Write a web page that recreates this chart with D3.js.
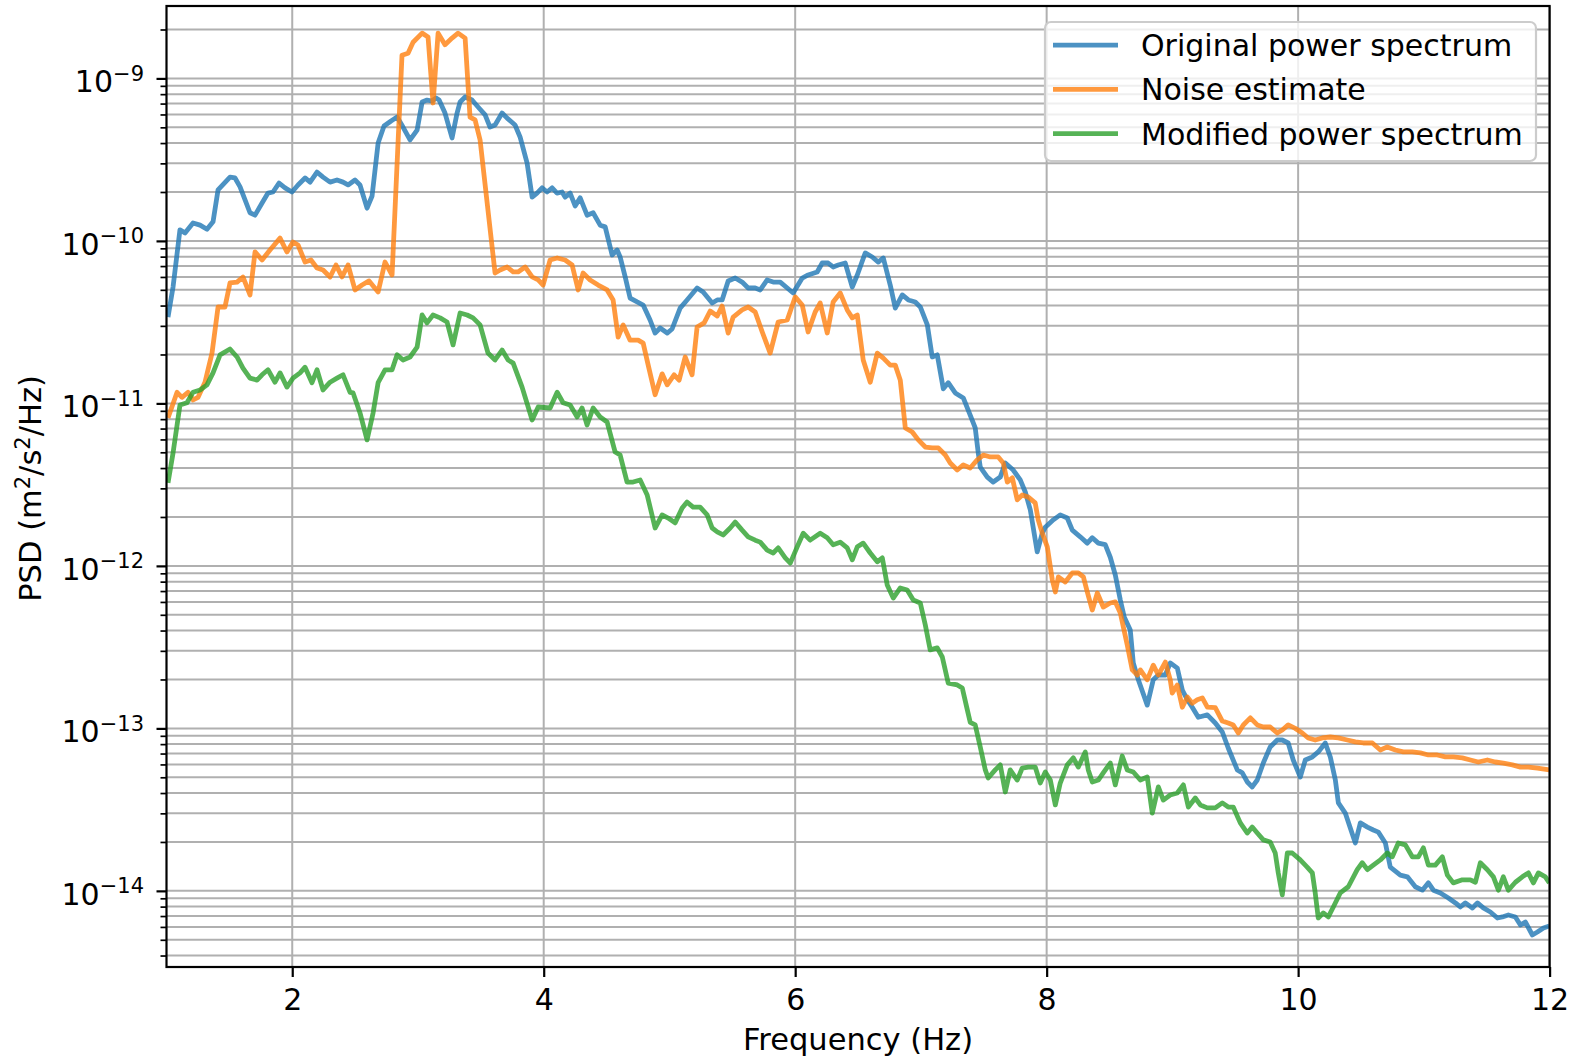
<!DOCTYPE html>
<html>
<head>
<meta charset="utf-8">
<script src="https://cdn.jsdelivr.net/npm/d3@7"></script>
<style>
  body { margin: 0; background: #ffffff; }
  text { font-family: "DejaVu Sans", sans-serif; fill: #000; }
</style>
</head>
<body>
<svg id="chart" width="1576" height="1059"></svg>
<script>
// Frequency (Hz) and PSD (m^2/s^2/Hz) for each spectrum
const freqOriginal = [1.012,1.052,1.107,1.147,1.211,1.267,1.322,1.370,1.410,1.505,1.545,1.585,1.664,1.704,1.760,1.807,1.847,1.895,1.943,1.998,2.046,2.102,2.142,2.197,2.245,2.301,2.356,2.404,2.444,2.499,2.539,2.595,2.635,2.683,2.730,2.786,2.834,2.881,2.937,2.993,3.033,3.072,3.112,3.144,3.168,3.215,3.271,3.311,3.335,3.375,3.430,3.478,3.534,3.573,3.613,3.669,3.709,3.772,3.812,3.868,3.908,3.947,3.987,4.027,4.067,4.106,4.146,4.170,4.210,4.250,4.290,4.345,4.393,4.449,4.489,4.544,4.584,4.608,4.648,4.687,4.743,4.791,4.846,4.886,4.926,4.982,5.021,5.085,5.140,5.220,5.268,5.340,5.380,5.419,5.467,5.523,5.578,5.626,5.682,5.722,5.777,5.825,5.881,5.937,5.984,6.056,6.103,6.175,6.215,6.262,6.302,6.342,6.398,6.454,6.494,6.557,6.613,6.661,6.701,6.756,6.796,6.852,6.900,6.955,6.995,7.051,7.090,7.130,7.178,7.217,7.273,7.337,7.392,7.432,7.456,7.472,7.528,7.575,7.631,7.671,7.734,7.790,7.830,7.870,7.925,7.965,7.989,8.053,8.108,8.164,8.204,8.267,8.323,8.363,8.411,8.466,8.506,8.546,8.586,8.617,8.665,8.689,8.729,8.800,8.848,8.888,8.944,8.983,9.039,9.079,9.119,9.158,9.206,9.278,9.341,9.397,9.444,9.516,9.556,9.596,9.635,9.675,9.723,9.778,9.834,9.874,9.921,9.961,10.017,10.057,10.113,10.160,10.216,10.256,10.296,10.320,10.375,10.455,10.495,10.551,10.598,10.638,10.694,10.733,10.813,10.869,10.932,10.988,11.036,11.076,11.131,11.195,11.251,11.290,11.330,11.386,11.426,11.473,11.529,11.585,11.624,11.672,11.728,11.768,11.807,11.863,11.903,11.951,11.998];
const psdOriginal = [3.40e-11,5.20e-11,1.17e-10,1.12e-10,1.29e-10,1.25e-10,1.18e-10,1.31e-10,2.06e-10,2.47e-10,2.44e-10,2.15e-10,1.49e-10,1.44e-10,1.71e-10,1.97e-10,2.00e-10,2.27e-10,2.12e-10,2.00e-10,2.21e-10,2.44e-10,2.30e-10,2.65e-10,2.47e-10,2.30e-10,2.37e-10,2.30e-10,2.21e-10,2.37e-10,2.21e-10,1.59e-10,1.89e-10,4.00e-10,5.09e-10,5.47e-10,5.78e-10,5.02e-10,4.18e-10,4.81e-10,7.16e-10,7.36e-10,7.26e-10,7.57e-10,7.36e-10,6.12e-10,4.30e-10,6.12e-10,7.16e-10,7.69e-10,7.36e-10,6.67e-10,5.96e-10,5.02e-10,5.17e-10,6.12e-10,5.70e-10,5.17e-10,4.36e-10,3.01e-10,1.86e-10,1.97e-10,2.12e-10,2.00e-10,2.12e-10,1.97e-10,2.00e-10,1.86e-10,1.97e-10,1.64e-10,1.84e-10,1.44e-10,1.49e-10,1.25e-10,1.22e-10,8.19e-11,8.79e-11,7.96e-11,6.00e-11,4.45e-11,4.21e-11,4.03e-11,3.26e-11,2.71e-11,2.91e-11,2.71e-11,2.87e-11,3.86e-11,4.33e-11,5.13e-11,4.85e-11,4.15e-11,4.33e-11,4.33e-11,5.67e-11,5.91e-11,5.58e-11,5.13e-11,5.13e-11,4.99e-11,5.75e-11,5.58e-11,5.58e-11,5.13e-11,4.78e-11,5.91e-11,6.17e-11,6.44e-11,7.31e-11,7.31e-11,6.91e-11,7.11e-11,7.31e-11,5.20e-11,6.17e-11,8.43e-11,7.96e-11,7.41e-11,7.85e-11,5.35e-11,3.86e-11,4.65e-11,4.33e-11,4.21e-11,3.92e-11,3.04e-11,1.93e-11,1.99e-11,1.23e-11,1.34e-11,1.16e-11,1.08e-11,8.48e-12,7.06e-12,4.95e-12,4.06e-12,3.52e-12,3.28e-12,3.52e-12,4.30e-12,3.89e-12,3.38e-12,2.85e-12,2.21e-12,1.22e-12,1.59e-12,1.73e-12,1.92e-12,2.06e-12,1.97e-12,1.66e-12,1.51e-12,1.38e-12,1.49e-12,1.38e-12,1.35e-12,1.13e-12,8.79e-13,6.17e-13,4.85e-13,4.03e-13,2.53e-13,1.99e-13,1.39e-13,1.99e-13,2.13e-13,2.13e-13,2.53e-13,2.35e-13,1.72e-13,1.50e-13,1.35e-13,1.17e-13,1.21e-13,1.08e-13,9.50e-14,7.57e-14,5.55e-14,5.32e-14,4.68e-14,4.36e-14,4.81e-14,6.12e-14,7.69e-14,8.48e-14,8.48e-14,8.13e-14,6.39e-14,5.02e-14,6.39e-14,6.67e-14,7.16e-14,8.13e-14,6.67e-14,4.81e-14,3.48e-14,3.01e-14,1.97e-14,2.62e-14,2.47e-14,2.37e-14,2.30e-14,1.97e-14,1.40e-14,1.25e-14,1.22e-14,1.06e-14,1.01e-14,1.12e-14,1.01e-14,9.71e-15,9.04e-15,8.43e-15,7.96e-15,8.43e-15,7.85e-15,8.43e-15,7.85e-15,7.41e-15,6.81e-15,6.91e-15,7.11e-15,6.91e-15,6.17e-15,6.44e-15,5.35e-15,5.58e-15,5.91e-15,6.08e-15];

const freqNoise = [1.012,1.084,1.123,1.171,1.211,1.251,1.306,1.362,1.410,1.465,1.505,1.561,1.608,1.664,1.704,1.760,1.823,1.903,1.958,2.006,2.046,2.102,2.149,2.197,2.245,2.301,2.348,2.396,2.444,2.499,2.555,2.611,2.683,2.738,2.794,2.873,2.921,2.961,3.033,3.080,3.120,3.160,3.215,3.271,3.319,3.375,3.414,3.454,3.494,3.613,3.653,3.709,3.757,3.796,3.852,3.908,3.956,3.995,4.051,4.107,4.170,4.226,4.274,4.313,4.369,4.433,4.504,4.552,4.592,4.632,4.687,4.751,4.791,4.831,4.886,4.942,4.982,5.037,5.077,5.125,5.180,5.220,5.276,5.324,5.380,5.419,5.467,5.507,5.578,5.626,5.682,5.738,5.801,5.865,5.937,6.000,6.056,6.103,6.159,6.199,6.255,6.302,6.358,6.414,6.454,6.494,6.541,6.597,6.653,6.701,6.756,6.796,6.836,6.876,6.931,6.979,7.035,7.090,7.138,7.194,7.233,7.289,7.337,7.392,7.448,7.496,7.552,7.615,7.655,7.687,7.727,7.766,7.806,7.854,7.909,7.933,7.965,8.005,8.045,8.069,8.093,8.148,8.204,8.252,8.292,8.323,8.363,8.403,8.450,8.506,8.546,8.586,8.641,8.681,8.721,8.745,8.800,8.848,8.888,8.944,8.983,8.999,9.039,9.079,9.119,9.158,9.198,9.238,9.278,9.341,9.397,9.444,9.484,9.524,9.564,9.620,9.675,9.723,9.778,9.834,9.874,9.921,9.977,10.033,10.080,10.136,10.192,10.256,10.320,10.391,10.455,10.518,10.590,10.654,10.709,10.773,10.837,10.908,10.972,11.036,11.107,11.171,11.234,11.306,11.370,11.433,11.505,11.568,11.632,11.704,11.768,11.831,11.903,11.998];
const psdNoise = [8.13e-12,1.17e-11,1.09e-11,1.17e-11,1.05e-11,1.09e-11,1.35e-11,2.04e-11,3.92e-11,3.92e-11,5.51e-11,5.58e-11,6.00e-11,4.65e-11,8.55e-11,7.63e-11,8.79e-11,1.04e-10,8.55e-11,9.84e-11,9.44e-11,7.41e-11,7.63e-11,6.81e-11,6.62e-11,6.00e-11,7.11e-11,6.00e-11,7.11e-11,4.99e-11,5.35e-11,5.67e-11,4.85e-11,7.41e-11,6.17e-11,1.39e-9,1.43e-9,1.67e-9,1.90e-9,1.80e-9,7.06e-10,1.90e-9,1.61e-9,1.77e-9,1.90e-9,1.77e-9,5.78e-10,5.55e-10,4.18e-10,6.34e-11,6.62e-11,6.91e-11,6.44e-11,6.44e-11,6.91e-11,6.00e-11,5.75e-11,5.35e-11,7.63e-11,7.85e-11,7.63e-11,7.11e-11,4.99e-11,6.34e-11,5.75e-11,5.35e-11,4.99e-11,4.33e-11,2.56e-11,3.04e-11,2.45e-11,2.45e-11,2.35e-11,1.72e-11,1.13e-11,1.52e-11,1.30e-11,1.50e-11,1.39e-11,1.93e-11,1.50e-11,2.95e-11,3.13e-11,3.70e-11,3.45e-11,3.97e-11,2.71e-11,3.40e-11,3.76e-11,3.92e-11,3.65e-11,2.75e-11,2.04e-11,3.17e-11,3.26e-11,4.52e-11,4.03e-11,2.75e-11,3.65e-11,4.15e-11,2.71e-11,4.21e-11,4.78e-11,3.76e-11,3.36e-11,3.50e-11,1.85e-11,1.35e-11,2.04e-11,1.90e-11,1.72e-11,1.72e-11,1.39e-11,7.06e-12,6.67e-12,5.96e-12,5.39e-12,5.32e-12,5.32e-12,4.81e-12,4.30e-12,3.89e-12,4.18e-12,4.00e-12,4.49e-12,4.81e-12,4.68e-12,4.68e-12,4.30e-12,3.28e-12,3.48e-12,2.55e-12,2.73e-12,2.65e-12,2.44e-12,1.92e-12,1.59e-12,1.31e-12,8.19e-13,6.91e-13,8.55e-13,7.96e-13,9.04e-13,9.04e-13,8.55e-13,6.91e-13,5.35e-13,6.81e-13,5.58e-13,5.91e-13,6.00e-13,5.13e-13,3.26e-13,2.29e-13,2.13e-13,2.29e-13,1.99e-13,2.45e-13,2.13e-13,2.56e-13,1.99e-13,1.65e-13,1.85e-13,1.35e-13,1.56e-13,1.43e-13,1.50e-13,1.54e-13,1.35e-13,1.34e-13,1.11e-13,1.08e-13,1.05e-13,9.37e-14,1.05e-13,1.16e-13,1.05e-13,1.02e-13,1.02e-13,9.37e-14,9.77e-14,1.05e-13,1.00e-13,9.37e-14,8.73e-14,8.48e-14,8.73e-14,8.85e-14,8.73e-14,8.48e-14,8.25e-14,8.13e-14,8.13e-14,7.36e-14,7.69e-14,7.36e-14,7.16e-14,7.16e-14,7.06e-14,6.86e-14,6.86e-14,6.67e-14,6.67e-14,6.58e-14,6.39e-14,6.21e-14,6.39e-14,6.21e-14,6.12e-14,5.96e-14,5.78e-14,5.78e-14,5.70e-14,5.55e-14];

const freqModified = [1.012,1.052,1.107,1.163,1.211,1.267,1.322,1.370,1.426,1.505,1.561,1.608,1.664,1.720,1.760,1.807,1.863,1.903,1.958,2.006,2.062,2.102,2.157,2.197,2.245,2.301,2.356,2.404,2.460,2.484,2.539,2.595,2.643,2.683,2.738,2.794,2.834,2.881,2.937,2.993,3.033,3.072,3.120,3.176,3.231,3.279,3.335,3.391,3.438,3.494,3.557,3.613,3.669,3.717,3.757,3.828,3.908,3.956,4.051,4.107,4.154,4.210,4.266,4.305,4.345,4.393,4.449,4.504,4.568,4.608,4.663,4.711,4.767,4.823,4.886,4.942,4.990,5.045,5.101,5.140,5.188,5.244,5.300,5.340,5.380,5.427,5.483,5.523,5.578,5.626,5.682,5.722,5.777,5.825,5.865,5.921,5.961,6.016,6.064,6.119,6.199,6.255,6.302,6.358,6.414,6.454,6.494,6.541,6.597,6.653,6.693,6.732,6.780,6.836,6.891,6.939,6.995,7.035,7.074,7.130,7.170,7.217,7.289,7.329,7.369,7.392,7.432,7.472,7.512,7.535,7.591,7.631,7.671,7.710,7.766,7.806,7.854,7.909,7.949,7.989,8.029,8.069,8.108,8.164,8.212,8.252,8.307,8.331,8.363,8.411,8.450,8.506,8.546,8.601,8.641,8.689,8.745,8.800,8.840,8.888,8.928,8.983,9.039,9.087,9.127,9.182,9.222,9.278,9.341,9.397,9.444,9.484,9.540,9.596,9.635,9.675,9.723,9.778,9.818,9.842,9.874,9.914,9.953,10.017,10.072,10.113,10.136,10.160,10.200,10.240,10.280,10.335,10.399,10.470,10.510,10.551,10.598,10.654,10.709,10.749,10.797,10.853,10.908,10.956,10.996,11.036,11.091,11.147,11.187,11.234,11.306,11.370,11.410,11.449,11.505,11.553,11.593,11.632,11.672,11.728,11.783,11.831,11.871,11.911,11.966,11.998];
const psdModified = [3.24e-12,4.95e-12,9.77e-12,1.01e-11,1.17e-11,1.21e-11,1.30e-11,1.54e-11,1.99e-11,2.16e-11,1.93e-11,1.65e-11,1.43e-11,1.39e-11,1.50e-11,1.61e-11,1.35e-11,1.54e-11,1.26e-11,1.43e-11,1.54e-11,1.67e-11,1.34e-11,1.61e-11,1.21e-11,1.35e-11,1.43e-11,1.50e-11,1.17e-11,1.16e-11,8.73e-12,5.96e-12,8.73e-12,1.34e-11,1.61e-11,1.61e-11,1.99e-11,1.85e-11,1.93e-11,2.22e-11,3.50e-11,3.13e-11,3.50e-11,3.36e-11,3.17e-11,2.29e-11,3.60e-11,3.50e-11,3.36e-11,3.04e-11,2.04e-11,1.85e-11,2.13e-11,1.85e-11,1.77e-11,1.26e-11,7.91e-12,9.50e-12,9.37e-12,1.17e-11,1.01e-11,9.77e-12,8.25e-12,9.37e-12,7.36e-12,9.37e-12,8.25e-12,7.69e-12,5.02e-12,4.81e-12,3.28e-12,3.28e-12,3.38e-12,2.73e-12,1.71e-12,2.06e-12,1.97e-12,1.84e-12,2.27e-12,2.47e-12,2.30e-12,2.30e-12,2.06e-12,1.71e-12,1.62e-12,1.55e-12,1.71e-12,1.86e-12,1.66e-12,1.51e-12,1.44e-12,1.40e-12,1.25e-12,1.20e-12,1.29e-12,1.12e-12,1.04e-12,1.31e-12,1.59e-12,1.44e-12,1.59e-12,1.49e-12,1.35e-12,1.40e-12,1.29e-12,1.09e-12,1.31e-12,1.38e-12,1.20e-12,1.06e-12,1.12e-12,7.63e-13,6.34e-13,7.31e-13,7.11e-13,6.17e-13,5.91e-13,4.33e-13,3.04e-13,3.13e-13,2.75e-13,1.90e-13,1.85e-13,1.77e-13,1.30e-13,1.09e-13,1.05e-13,7.69e-14,5.55e-14,4.95e-14,5.55e-14,5.96e-14,4.06e-14,5.55e-14,4.81e-14,5.70e-14,5.78e-14,5.78e-14,4.61e-14,5.39e-14,4.81e-14,3.38e-14,4.61e-14,5.96e-14,6.58e-14,5.78e-14,7.16e-14,5.55e-14,4.68e-14,4.81e-14,5.32e-14,6.12e-14,4.49e-14,6.76e-14,5.55e-14,5.39e-14,4.81e-14,5.02e-14,3.01e-14,4.36e-14,3.62e-14,3.89e-14,4.00e-14,4.49e-14,3.28e-14,3.73e-14,3.38e-14,3.24e-14,3.24e-14,3.48e-14,3.28e-14,3.28e-14,2.62e-14,2.27e-14,2.47e-14,2.27e-14,2.06e-14,2.00e-14,1.71e-14,1.29e-14,9.44e-15,1.71e-14,1.71e-14,1.55e-14,1.40e-14,1.29e-14,9.71e-15,6.81e-15,7.31e-15,6.91e-15,7.96e-15,9.71e-15,1.06e-14,1.35e-14,1.49e-14,1.35e-14,1.44e-14,1.55e-14,1.71e-14,1.62e-14,1.97e-14,1.92e-14,1.62e-14,1.62e-14,1.84e-14,1.44e-14,1.44e-14,1.62e-14,1.25e-14,1.12e-14,1.17e-14,1.17e-14,1.13e-14,1.49e-14,1.35e-14,1.22e-14,1.01e-14,1.22e-14,1.01e-14,1.13e-14,1.22e-14,1.29e-14,1.12e-14,1.29e-14,1.22e-14,1.12e-14];

const seriesNames = ["Original power spectrum", "Noise estimate", "Modified power spectrum"];
const seriesColors = ["#1f77b4", "#ff7f0e", "#2ca02c"];
const xTicks = [2, 4, 6, 8, 10, 12];
const yDecades = [-14, -13, -12, -11, -10, -9];
const xDomain = [1, 12];
const yDomain = [3.4e-15, 2.79e-9];

const series = [
  { name: seriesNames[0], color: seriesColors[0], pts: freqOriginal.map((f, i) => [f, psdOriginal[i]]) },
  { name: seriesNames[1], color: seriesColors[1], pts: freqNoise.map((f, i) => [f, psdNoise[i]]) },
  { name: seriesNames[2], color: seriesColors[2], pts: freqModified.map((f, i) => [f, psdModified[i]]) }
];

const FS = 30;      // base font size
const SUP = 21;     // superscript font size
const plot = { left: 166.5, right: 1549.6, top: 6, bottom: 967 };
const svg = d3.select("#chart");

const x = d3.scaleLinear().domain(xDomain).range([plot.left, plot.right]);
const y = d3.scaleLog().domain(yDomain).range([plot.bottom, plot.top]);

const isDecade = v => Math.abs(Math.log10(v) - Math.round(Math.log10(v))) < 1e-6;
const allY = y.ticks();
const majorY = yDecades.map(e => Math.pow(10, e));
const minorY = allY.filter(v => !isDecade(v));

// grid
const grid = svg.append("g").attr("stroke", "#b0b0b0").attr("stroke-width", 2);
grid.selectAll("line.gy").data(allY).join("line")
  .attr("x1", plot.left).attr("x2", plot.right)
  .attr("y1", d => y(d)).attr("y2", d => y(d));
grid.selectAll("line.gx").data(xTicks).join("line")
  .attr("x1", d => x(d)).attr("x2", d => x(d))
  .attr("y1", plot.top).attr("y2", plot.bottom);

// spectra
svg.append("clipPath").attr("id", "plotclip").append("rect")
  .attr("x", plot.left).attr("y", plot.top)
  .attr("width", plot.right - plot.left).attr("height", plot.bottom - plot.top);
const line = d3.line().x(d => x(d[0])).y(d => y(d[1]));
svg.append("g").attr("clip-path", "url(#plotclip)")
  .selectAll("path").data(series).join("path")
  .attr("d", d => line(d.pts))
  .attr("fill", "none")
  .attr("stroke", d => d.color)
  .attr("stroke-opacity", 0.8)
  .attr("stroke-width", 4.8)
  .attr("stroke-linejoin", "round");

// axes
const xAxis = d3.axisBottom(x).tickValues(xTicks).tickSize(10).tickSizeOuter(0).tickPadding(12)
  .tickFormat(d3.format("d"));
const gx = svg.append("g").attr("transform", `translate(0,${plot.bottom})`).call(xAxis);
gx.select(".domain").remove();
gx.selectAll(".tick line").attr("stroke", "#000").attr("stroke-width", 2.2);
gx.selectAll(".tick text").attr("font-size", FS).attr("font-family", "DejaVu Sans").attr("fill", "#000");

const yMajorAxis = d3.axisLeft(y).tickValues(majorY).tickSize(10).tickSizeOuter(0).tickFormat("");
const gy = svg.append("g").attr("transform", `translate(${plot.left},0)`).call(yMajorAxis);
gy.select(".domain").remove();
gy.selectAll(".tick line").attr("stroke", "#000").attr("stroke-width", 2.2);

const yMinorAxis = d3.axisLeft(y).tickValues(minorY).tickSize(6).tickSizeOuter(0).tickFormat("");
const gym = svg.append("g").attr("transform", `translate(${plot.left},0)`).call(yMinorAxis);
gym.select(".domain").remove();
gym.selectAll(".tick line").attr("stroke", "#000").attr("stroke-width", 1.7);

// y tick labels as 10 with superscript exponent
const ylab = svg.append("g").selectAll("text").data(yDecades).join("text")
  .attr("x", 144).attr("y", d => y(Math.pow(10, d)) + 14)
  .attr("text-anchor", "end").attr("font-size", FS);
ylab.append("tspan").text("10");
ylab.append("tspan").attr("dy", -11.5).attr("font-size", SUP).text(d => "\u2212" + Math.abs(d));

// spines
svg.append("rect")
  .attr("x", plot.left).attr("y", plot.top)
  .attr("width", plot.right - plot.left).attr("height", plot.bottom - plot.top)
  .attr("fill", "none").attr("stroke", "#000").attr("stroke-width", 2.2);

// axis titles
svg.append("text").attr("x", (plot.left + plot.right) / 2).attr("y", 1050)
  .attr("text-anchor", "middle").attr("font-size", FS + 0.5).text("Frequency (Hz)");

const yTitle = svg.append("text")
  .attr("transform", `translate(41,${(plot.top + plot.bottom) / 2 + 2}) rotate(-90)`)
  .attr("text-anchor", "middle").attr("font-size", FS + 0.5);
yTitle.append("tspan").text("PSD (m");
yTitle.append("tspan").attr("dy", -11.5).attr("font-size", SUP).text("2");
yTitle.append("tspan").attr("dy", 11.5).text("/s");
yTitle.append("tspan").attr("dy", -11.5).attr("font-size", SUP).text("2");
yTitle.append("tspan").attr("dy", 11.5).text("/Hz)");

// legend
const legend = svg.append("g");
legend.append("rect")
  .attr("x", 1045).attr("y", 22).attr("width", 491).attr("height", 139)
  .attr("rx", 6).attr("ry", 6)
  .attr("fill", "#ffffff").attr("fill-opacity", 0.8)
  .attr("stroke", "#cccccc").attr("stroke-width", 2.2);
const rows = legend.selectAll("g.row").data(series).join("g")
  .attr("transform", (d, i) => `translate(0,${45.2 + i * 44.2})`);
rows.append("line")
  .attr("x1", 1053).attr("x2", 1118).attr("y1", 0).attr("y2", 0)
  .attr("stroke", d => d.color).attr("stroke-opacity", 0.8).attr("stroke-width", 4.8);
rows.append("text")
  .attr("x", 1141).attr("y", 11).attr("font-size", FS).text(d => d.name);
</script>
</body>
</html>
